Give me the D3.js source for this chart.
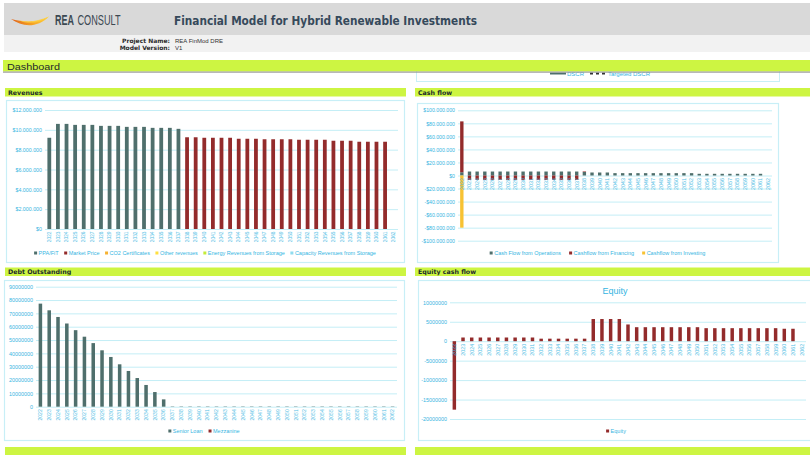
<!DOCTYPE html>
<html>
<head>
<meta charset="utf-8">
<script src="https://cdn.jsdelivr.net/npm/d3@7"></script>
<style>
  body { margin: 0; background: #fff; }
  svg { display: block; }
</style>
</head>
<body>
<div id="dash"></div>
<script>
// ---- data ----
const years = [2022, 2023, 2024, 2025, 2026, 2027, 2028, 2029, 2030, 2031, 2032, 2033, 2034, 2035,
  2036, 2037, 2038, 2039, 2040, 2041, 2042, 2043, 2044, 2045, 2046, 2047, 2048, 2049, 2050, 2051,
  2052, 2053, 2054, 2055, 2056, 2057, 2058, 2059, 2060, 2061, 2062];

// Revenues
const ppaFit = [9200000, 10600000, 10600000, 10500000, 10500000, 10500000, 10400000, 10400000,
  10400000, 10300000, 10300000, 10300000, 10200000, 10200000, 10200000, 10100000,
  0, 0, 0, 0, 0, 0, 0, 0, 0, 0, 0, 0, 0, 0, 0, 0, 0, 0, 0, 0, 0, 0, 0, 0, 0];
const marketPrice = [0, 0, 0, 0, 0, 0, 0, 0, 0, 0, 0, 0, 0, 0, 0, 0,
  9250000, 9250000, 9200000, 9200000, 9200000, 9200000, 9100000, 9100000, 9100000, 9050000,
  9050000, 9050000, 9050000, 9000000, 9000000, 9000000, 9000000, 8900000, 8900000, 8900000,
  8800000, 8800000, 8800000, 8800000, 0];
const co2Certificates = [];
const otherRevenues = [];
const energyStorage = [];
const capacityStorage = [];

// Cash flow
const cfOperations = [5000000, 6100000, 6100000, 6100000, 6100000, 6100000, 6100000, 6100000,
  6100000, 6100000, 6100000, 6100000, 6100000, 6100000, 6100000, 6100000, 5400000,
  4600000, 4600000, 4600000, 3600000, 3600000, 3600000, 3600000, 3600000, 3600000, 3600000,
  3600000, 3600000, 3600000, 3600000, 2600000, 2600000, 2600000, 2600000, 2600000, 2600000,
  2600000, 2600000, 2600000, 0];
const cfFinancing = [78000000, -6700000, -6700000, -6700000, -6700000, -6700000, -6700000,
  -6700000, -6700000, -6700000, -6700000, -6700000, -6700000, -6700000, -6700000, -6700000,
  800000, 0, 0, 0, 0, 0, 0, 0, 0, 0, 0, 0, 0, 0, 0, 0, 0, 0, 0, 0, 0, 0, 0, 0, 0];
const cfInvesting = [-80000000, 0, 0, 0, 0, 0, 0, 0, 0, 0, 0, 0, 0, 0, 0, 0, 0, 0, 0, 0, 0,
  0, 0, 0, 0, 0, 0, 0, 0, 0, 0, 0, 0, 0, 0, 0, 0, 0, 0, 0, 0];

// Debt outstanding
const seniorLoan = [77300000, 72300000, 67300000, 62400000, 57400000, 52500000, 47700000,
  42300000, 37300000, 31800000, 26800000, 21500000, 16300000, 11000000, 5500000,
  250000, 250000, 250000, 250000, 250000, 250000, 250000, 250000, 250000, 250000, 250000,
  250000, 250000, 250000, 250000, 250000, 250000, 250000, 250000, 250000, 250000, 250000,
  250000, 250000, 250000, 250000];
const mezzanine = [];

// Equity cash flow
const equity = [-17600000, 950000, 950000, 950000, 950000, 950000, 950000, 950000, 950000,
  950000, 650000, 650000, 650000, 650000, 650000, 650000, 5700000, 5700000, 5700000, 5700000,
  4300000, 3600000, 3600000, 3600000, 3600000, 3600000, 3600000, 3600000, 3600000, 3350000,
  3350000, 3350000, 3350000, 3350000, 3350000, 3350000, 3350000, 3350000, 3200000, 3200000, 0];

// ticks
const revenueTicks = [0, 2000000, 4000000, 6000000, 8000000, 10000000, 12000000];
const cashTicks = [-100000000, -80000000, -60000000, -40000000, -20000000, 0, 20000000,
  40000000, 60000000, 80000000, 100000000];
const debtTicks = [0, 10000000, 20000000, 30000000, 40000000, 50000000, 60000000, 70000000,
  80000000, 90000000];
const equityTicks = [-20000000, -15000000, -10000000, -5000000, 0, 5000000, 10000000];

// ---- styles ----
const lime = "#cdf542";
const teal = "#4f6f6c";
const red = "#932b2b";
const axisTxt = "#35b5e2";
const gridCol = "#c4eef6";
const boxCol = "#c8eff7";
const chartFont = "'Liberation Sans', Arial, sans-serif";

const svg = d3.select("#dash").append("svg")
    .attr("width", 810)
    .attr("height", 455);

const money = d3.formatLocale({ decimal: ",", thousands: ".", grouping: [3], currency: ["$", ""], minus: "-" })
    .format("$,.0f");
const plain = v => String(v);

// ---- header ----
svg.append("rect").attr("x", 4).attr("y", 3).attr("width", 806).attr("height", 32).attr("fill", "#d9d9d9");
svg.append("rect").attr("x", 4).attr("y", 35).attr("width", 806).attr("height", 17).attr("fill", "#f2f2f2");

const defs = svg.append("defs");
const grad = defs.append("linearGradient").attr("id", "swoosh").attr("x1", "0").attr("x2", "1");
grad.append("stop").attr("offset", "0").attr("stop-color", "#e0641b");
grad.append("stop").attr("offset", "0.55").attr("stop-color", "#f5a024");
grad.append("stop").attr("offset", "1").attr("stop-color", "#ffd43e");
svg.append("path")
    .attr("d", "M11,19 C22,21.5 34,24.5 49,16.5 C37,28.5 22,27 11,19 Z")
    .attr("fill", "url(#swoosh)");
svg.append("path")
    .attr("d", "M18,20.2 C28,22 38,21.5 49,16.5 C40,23.5 28,24.5 18,20.2 Z")
    .attr("fill", "#ffcf3a").attr("opacity", 0.75);

// company name, horizontally condensed
svg.append("text")
    .attr("transform", "translate(55,25) scale(0.64,1)")
    .attr("font-family", "'Liberation Sans', Arial, sans-serif").attr("font-weight", "bold")
    .attr("font-size", 14).attr("fill", "#3b4852").text("REA");
svg.append("text")
    .attr("transform", "translate(77.5,25) scale(0.655,1)")
    .attr("font-family", "'Liberation Sans', Arial, sans-serif")
    .attr("font-size", 14).attr("fill", "#3b4852").text("CONSULT");

svg.append("text").attr("x", 174).attr("y", 24.5)
    .attr("font-family", "'DejaVu Sans', sans-serif").attr("font-weight", "bold")
    .attr("font-size", 12.5).attr("fill", "#36495b")
    .attr("textLength", 303).attr("lengthAdjust", "spacingAndGlyphs")
    .text("Financial Model for Hybrid Renewable Investments");

svg.append("text").attr("x", 170).attr("y", 43).attr("text-anchor", "end")
    .attr("font-family", "'DejaVu Sans', sans-serif").attr("font-weight", "bold")
    .attr("font-size", 6).attr("fill", "#2a2a2a").text("Project Name:");
svg.append("text").attr("x", 170).attr("y", 49.5).attr("text-anchor", "end")
    .attr("font-family", "'DejaVu Sans', sans-serif").attr("font-weight", "bold")
    .attr("font-size", 6).attr("fill", "#2a2a2a").text("Model Version:");
svg.append("text").attr("x", 175).attr("y", 43)
    .attr("font-family", chartFont).attr("font-size", 6).attr("fill", "#333").text("REA FinMod DRE");
svg.append("text").attr("x", 175).attr("y", 49.5)
    .attr("font-family", chartFont).attr("font-size", 6).attr("fill", "#333").text("V1");

// ---- remnant of the DSCR chart peeking under the Dashboard bar ----
svg.append("rect").attr("x", 416.5).attr("y", 62).attr("width", 363).attr("height", 19.5)
    .attr("fill", "#fff").attr("stroke", boxCol);
svg.append("line").attr("x1", 550).attr("x2", 566).attr("y1", 73.5).attr("y2", 73.5)
    .attr("stroke", teal).attr("stroke-width", 2);
svg.append("text").attr("x", 567).attr("y", 76).attr("font-family", chartFont)
    .attr("font-size", 6).attr("fill", axisTxt).text("DSCR");
svg.append("line").attr("x1", 590).attr("x2", 606).attr("y1", 73.5).attr("y2", 73.5)
    .attr("stroke", "#333").attr("stroke-width", 2).attr("stroke-dasharray", "3,3");
svg.append("text").attr("x", 608).attr("y", 76).attr("font-family", chartFont)
    .attr("font-size", 6).attr("fill", axisTxt).text("Targeted DSCR");

// Dashboard bar
svg.append("rect").attr("x", 3).attr("y", 60).attr("width", 807).attr("height", 11.5).attr("fill", lime);
svg.append("rect").attr("x", 3).attr("y", 71.5).attr("width", 807).attr("height", 1.2).attr("fill", "#9a9a9a");
svg.append("text").attr("x", 7).attr("y", 69.5)
    .attr("font-family", "'Liberation Sans', Arial, sans-serif").attr("font-size", 9.5)
    .attr("fill", "#1e2b2b").attr("textLength", 53).attr("lengthAdjust", "spacingAndGlyphs")
    .text("Dashboard");

// ---- section bars ----
function sectionBar(x, y, w, label) {
    svg.append("rect").attr("x", x).attr("y", y).attr("width", w).attr("height", 8.5).attr("fill", lime);
    if (label) {
        svg.append("text").attr("x", x + 3).attr("y", y + 6.6)
            .attr("font-family", "'DejaVu Sans', sans-serif").attr("font-weight", "bold")
            .attr("font-size", 6.3).attr("fill", "#1b2b2b").text(label);
    }
}
sectionBar(5, 88, 401, "Revenues");
sectionBar(415, 88, 395, "Cash flow");
sectionBar(5, 267.5, 401, "Debt Outstanding");
sectionBar(415, 267.5, 395, "Equity cash flow");
sectionBar(5, 447, 401, null);
sectionBar(415, 447, 395, null);

// ---- chart panels ----
function barPanel(o) {
    svg.append("rect").attr("x", o.box[0] + 0.5).attr("y", o.box[1] + 0.5)
        .attr("width", o.box[2] - o.box[0]).attr("height", o.box[3] - o.box[1])
        .attr("fill", "#fff").attr("stroke", boxCol).attr("stroke-width", 1.2);

    const x = d3.scaleBand()
        .domain(years)
        .range([o.x0, o.x1])
        .paddingInner(o.pad)
        .paddingOuter(o.pad / 2);
    const y = d3.scaleLinear()
        .domain([o.ticks[0], o.ticks[o.ticks.length - 1]])
        .range([o.yBottom, o.yTop]);

    const g = svg.append("g");

    // y axis + gridlines
    g.append("g")
        .attr("transform", `translate(${o.x0},0)`)
        .call(d3.axisLeft(y).tickValues(o.ticks).tickFormat(o.fmt).tickSize(-(o.x1 - o.x0)).tickPadding(3))
        .call(a => {
            a.select(".domain").remove();
            a.selectAll("line").attr("stroke", gridCol).attr("stroke-width", 1);
            a.selectAll("text").attr("fill", axisTxt).attr("font-size", o.yFont)
                .attr("font-family", chartFont);
        });

    // stacked bars (positive up, negative down, like Excel)
    const rows = years.map((yr, i) => {
        const r = { year: yr };
        o.series.forEach(s => { r[s.name] = s.values[i] || 0; });
        return r;
    });
    const layers = d3.stack()
        .keys(o.series.map(s => s.name))
        .offset(d3.stackOffsetDiverging)(rows);

    layers.forEach((layer, k) => {
        g.append("g").attr("fill", o.series[k].color)
            .selectAll("rect")
            .data(layer.filter(d => d[1] !== d[0]))
            .join("rect")
            .attr("x", d => x(d.data.year))
            .attr("width", x.bandwidth())
            .attr("y", d => y(Math.max(d[0], d[1])))
            .attr("height", d => Math.abs(y(d[0]) - y(d[1])));
    });

    // rotated year labels next to the zero line
    g.append("g")
        .attr("transform", `translate(0,${y(0)})`)
        .call(d3.axisBottom(x).tickSize(0).tickPadding(0))
        .call(a => {
            a.select(".domain").remove();
            a.selectAll("text")
                .attr("transform", "rotate(-90)")
                .attr("x", -2.5)
                .attr("y", 0)
                .attr("dy", "0.35em")
                .attr("text-anchor", "end")
                .attr("fill", axisTxt)
                .attr("opacity", 0.85)
                .attr("font-size", o.xFont)
                .attr("font-family", chartFont);
        });

    if (o.title) {
        svg.append("text").attr("x", o.title[1]).attr("y", o.title[2])
            .attr("text-anchor", "middle").attr("font-family", chartFont)
            .attr("font-size", 9).attr("fill", axisTxt).text(o.title[0]);
    }

    // legend, centred on the chart box
    const leg = svg.append("g");
    let cx = 0;
    o.legend.forEach(s => {
        const item = leg.append("g").attr("transform", `translate(${cx},0)`);
        item.append("rect").attr("x", 0).attr("y", -1.5).attr("width", 3).attr("height", 3).attr("fill", s.color);
        const t = item.append("text").attr("x", 4.5).attr("y", 0).attr("dy", "0.35em")
            .attr("font-family", chartFont).attr("font-size", o.legFont).attr("fill", axisTxt).text(s.name);
        cx += 4.5 + t.node().getComputedTextLength() + o.legGap;
    });
    const legW = cx - o.legGap;
    leg.attr("transform", `translate(${(o.box[0] + o.box[2]) / 2 - legW / 2},${o.legY})`);
}

barPanel({
    box: [6, 100, 404, 262],
    x0: 45, x1: 398, yTop: 110, yBottom: 229,
    ticks: revenueTicks, fmt: money, pad: 0.56,
    yFont: 5.3, xFont: 4.8, legFont: 5.5, legGap: 5.5, legY: 253,
    series: [
        { name: "PPA/FiT", values: ppaFit, color: teal },
        { name: "Market Price", values: marketPrice, color: red },
        { name: "CO2 Certificates", values: co2Certificates, color: "#f6b131" },
        { name: "Other revenues", values: otherRevenues, color: "#ffdf3f" },
        { name: "Energy Revenues from Storage", values: energyStorage, color: "#c3ec3a" },
        { name: "Capacity Revenues from Storage", values: capacityStorage, color: "#8fdcef" }
    ],
    get legend() { return this.series; }
});

barPanel({
    box: [417, 103, 778, 262],
    x0: 458, x1: 772, yTop: 110.3, yBottom: 240.7,
    ticks: cashTicks, fmt: money, pad: 0.56,
    yFont: 5.2, xFont: 5.4, legFont: 5.5, legGap: 8, legY: 253,
    series: [
        { name: "Cash Flow from Operations", values: cfOperations, color: teal },
        { name: "Cashflow from Financing", values: cfFinancing, color: red },
        { name: "Cashflow from Investing", values: cfInvesting, color: "#f7c233" }
    ],
    get legend() { return this.series; }
});

barPanel({
    box: [4, 280, 404, 440],
    x0: 36, x1: 397, yTop: 286.7, yBottom: 406.7,
    ticks: debtTicks, fmt: plain, pad: 0.6,
    yFont: 5.4, xFont: 5.1, legFont: 5.5, legGap: 6, legY: 431,
    series: [
        { name: "Senior Loan", values: seniorLoan, color: teal },
        { name: "Mezzanine", values: mezzanine, color: red }
    ],
    get legend() { return this.series; }
});

barPanel({
    box: [418, 280, 814, 440],
    x0: 450, x1: 806, yTop: 302.3, yBottom: 419,
    ticks: equityTicks, fmt: plain, pad: 0.6,
    yFont: 5.4, xFont: 5.4, legFont: 5.5, legGap: 6, legY: 431,
    title: ["Equity", 615, 294],
    series: [
        { name: "Equity", values: equity, color: red }
    ],
    get legend() { return this.series; }
});
</script>
</body>
</html>
